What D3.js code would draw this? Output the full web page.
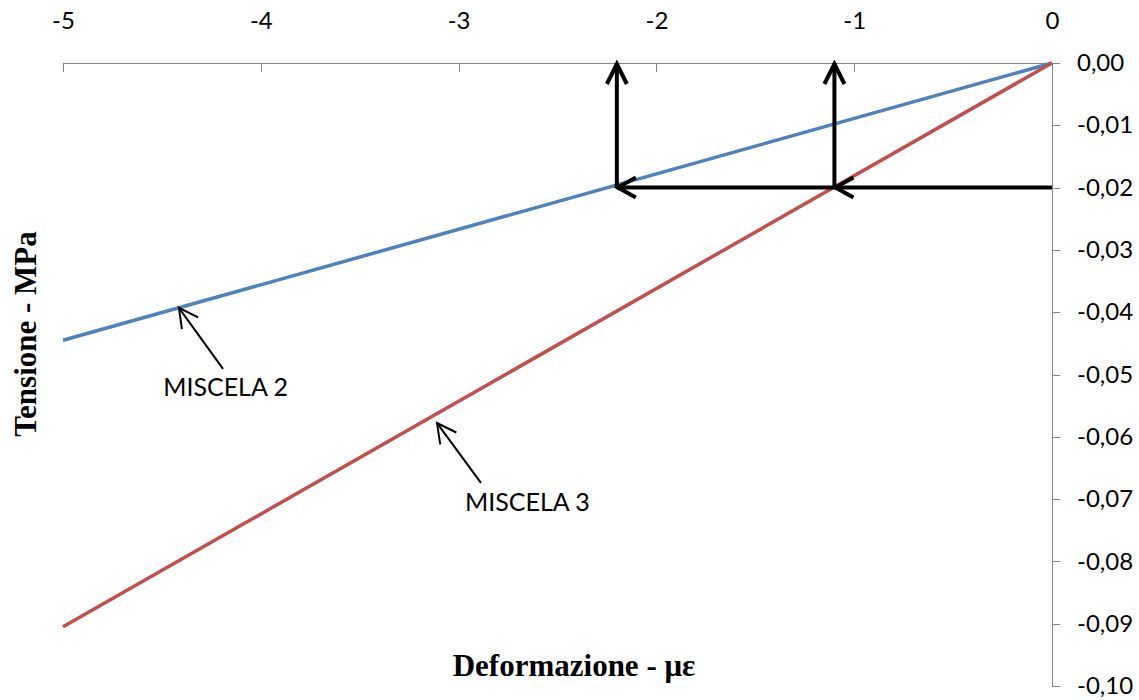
<!DOCTYPE html>
<html>
<head>
<meta charset="utf-8">
<script src="https://cdn.jsdelivr.net/npm/d3@7"></script>
<style>
  html, body { margin: 0; padding: 0; background: #fff; }
  svg { display: block; }
  .axis path, .axis line { stroke: #868686; stroke-width: 1; shape-rendering: crispEdges; }
  .axis text { fill: #000; font-family: Lato, "Open Sans", sans-serif; }
  .xaxis text { font-size: 24px; }
  .yaxis text { font-size: 24px; }
</style>
</head>
<body>
<svg id="chart" width="1139" height="700"></svg>
<script>
// Strain axis (top) and stress axis (right)
const xTicks = [-5, -4, -3, -2, -1, 0];
const yTicks = [0, -0.01, -0.02, -0.03, -0.04, -0.05, -0.06, -0.07, -0.08, -0.09, -0.10];

// Linear stress–strain lines for each mix: [deformation, stress]
const miscela2 = [[-5, -0.0445], [0, 0]];
const miscela3 = [[-5, -0.0905], [0, 0]];

// Reading at stress -0.02 MPa: deformation on each line
const readStress = -0.02;
const readStrain = [-2.2, -1.1];

// Callout labels: text, anchor point on the line, arrow tail, text position
const labels = ["MISCELA 2", "MISCELA 3"];
const labelTips = [[-4.414, -0.0393], [-3.109, -0.0578]];
const labelTails = [[-4.191, -0.0491], [-2.887, -0.0674]];
const labelPos = [[-4.178, -0.0534], [-2.652, -0.0719]];

const svg = d3.select("#chart");
const x = d3.scaleLinear().domain([-5, 0]).range([63, 1052]);
const y = d3.scaleLinear().domain([-0.10, 0]).range([686, 63]);

const it = d3.formatLocale({ decimal: ",", thousands: ".", grouping: [3], currency: ["", "€"], minus: "-" });
const fmtY = it.format(".2f");

// Top axis, ticks pointing into the plot
svg.append("g").attr("class", "axis xaxis")
  .attr("transform", `translate(0,${y(0)})`)
  .call(d3.axisTop(x).tickValues(xTicks).tickSizeInner(-9).tickSizeOuter(0).tickPadding(34).tickFormat(d => String(d)))
  .call(g => g.attr("font-size", null).attr("font-family", null));

// Right axis
svg.append("g").attr("class", "axis yaxis")
  .attr("transform", `translate(${x(0)},0)`)
  .call(d3.axisRight(y).tickValues(yTicks).tickSizeInner(8).tickSizeOuter(0).tickPadding(17).tickFormat(fmtY))
  .call(g => g.attr("font-size", null).attr("font-family", null));

const line = d3.line().x(d => x(d[0])).y(d => y(d[1]));

svg.append("path").datum(miscela2).attr("d", line)
  .attr("fill", "none").attr("stroke", "#4F81BD").attr("stroke-width", 3.5);
svg.append("path").datum(miscela3).attr("d", line)
  .attr("fill", "none").attr("stroke", "#C0504D").attr("stroke-width", 3.5);

// Open chevron arrowhead at (tx,ty) pointing along direction from (fx,fy)
function arrowHead(g, fx, fy, tx, ty, len, half, width) {
  const dx = tx - fx, dy = ty - fy, L = Math.hypot(dx, dy);
  const ux = dx / L, uy = dy / L, px = -uy, py = ux;
  const bx = tx - ux * len, by = ty - uy * len;
  g.append("path")
    .attr("d", `M${bx + px * half},${by + py * half}L${tx},${ty}L${bx - px * half},${by - py * half}`)
    .attr("fill", "none").attr("stroke", "#000").attr("stroke-width", width)
    .attr("stroke-linejoin", "miter").attr("stroke-linecap", "butt");
}

// Reading construction: horizontal from the stress axis, then up to the strain axis
const guide = svg.append("g");
const yr = y(readStress);
const xs = readStrain.map(x);
guide.append("line").attr("x1", x(0)).attr("x2", xs[0]).attr("y1", yr).attr("y2", yr)
  .attr("stroke", "#000").attr("stroke-width", 4);
readStrain.forEach((s, i) => {
  guide.append("line").attr("x1", xs[i]).attr("x2", xs[i]).attr("y1", yr).attr("y2", y(0))
    .attr("stroke", "#000").attr("stroke-width", 4);
  arrowHead(guide, xs[i], yr, xs[i], y(0) + 1, 20, 10, 4);
  arrowHead(guide, xs[i] + 50, yr, xs[i] + 1, yr, 18, 10, 4);
});

// Callouts
const notes = svg.append("g");
labels.forEach((t, i) => {
  const [tx, ty] = [x(labelTips[i][0]), y(labelTips[i][1])];
  const [fx, fy] = [x(labelTails[i][0]), y(labelTails[i][1])];
  notes.append("line").attr("x1", fx).attr("y1", fy).attr("x2", tx).attr("y2", ty)
    .attr("stroke", "#000").attr("stroke-width", 2);
  arrowHead(notes, fx, fy, tx, ty, 19, 10, 2);
  notes.append("text").attr("x", x(labelPos[i][0])).attr("y", y(labelPos[i][1]))
    .attr("text-anchor", "middle")
    .style("font-family", "Lato, 'Open Sans', sans-serif").style("font-size", "25px")
    .text(t);
});

// Axis titles
svg.append("text")
  .attr("transform", "translate(36,334) rotate(-90)")
  .attr("text-anchor", "middle")
  .style("font-family", "'Liberation Serif', 'Times New Roman', serif")
  .style("font-weight", "bold").style("font-size", "31px")
  .text("Tensione - MPa");

svg.append("text")
  .attr("x", 574).attr("y", 676)
  .attr("text-anchor", "middle")
  .style("font-family", "'Liberation Serif', 'Times New Roman', serif")
  .style("font-weight", "bold").style("font-size", "31px")
  .text("Deformazione - με");
</script>
</body>
</html>
